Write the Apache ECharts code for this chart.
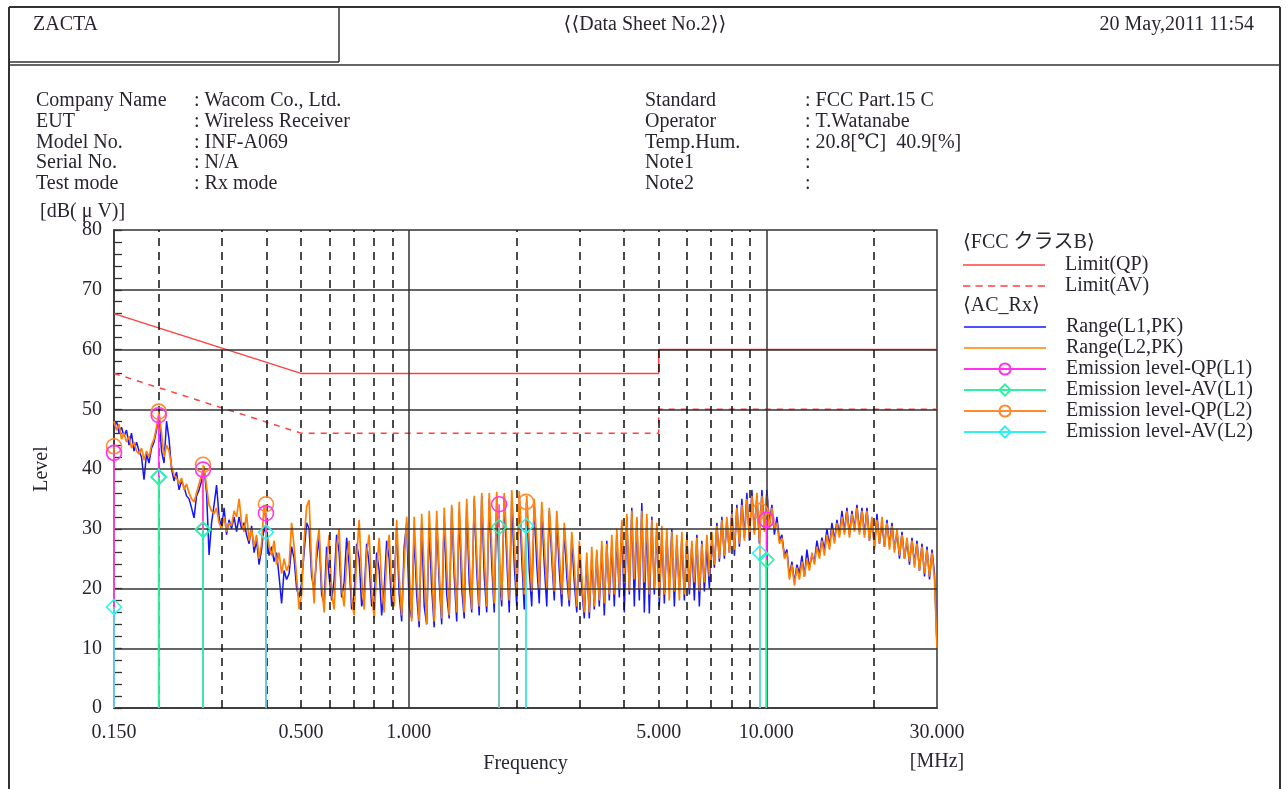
<!DOCTYPE html>
<html><head><meta charset="utf-8">
<script src="https://cdn.jsdelivr.net/npm/echarts/dist/echarts.min.js"></script>
<style>html,body{margin:0;padding:0;background:#fff}#c{width:1287px;height:789px}</style>
</head><body><div id="c"></div>
<script>
// Analyzer log sweep: 0.15 MHz .. 30 MHz, 330 points
const sweepStartMHz = 0.15, sweepStopMHz = 30, sweepPoints = 330;

// Range(L1,PK) - blue
const rangeL1 = [
47,48,46,47,45.5,46.5,44,46,43,44.5,
43,42,38.2,42.5,41,43.5,44.5,46.5,49,43,
41,48,45,40,38,39.5,36.5,38,37,35.5,
35,33.5,31.8,35.5,36.5,38,40,36,25.6,31,
34,37.3,32,30,33.5,29,31.5,30,32,29.5,
32,30,31,29,27.5,30.5,26,28,24,26.5,
30.5,28.5,25.5,27,24.5,26,22,17.5,23,21.5,
22.5,27,25,20,18.5,21,26,31,30,22,
20,25,28.5,19,17.5,27,22,18,21.5,29,
26,18.5,21,28.5,24,16.5,19,27.5,25,17,
19,27.5,24,17,18,26,23,15.5,20,28,
25,17,21,30,19,14.5,27,31,17,15,
29,19,13.5,31,17,14,30,20,13.5,31.5,
21,14,32,19,15,33.5,22,14.5,33,20,
15,34,21,16,35,23,15.5,35.5,22,16,
35,24,16,35,22,17,35.5,25,16,35,
24,17,35.5,25,16.5,34.5,23,17,34,24,
17.5,33.5,24,17,33,25,18,32,23,17,
30,22,17,28.5,21,16,27,20,15,25,
15,25.5,16.5,26,17,27,15.5,28,18,27.5,
17,29,18.5,31,16,32,19,33.5,17,31.5,
18,34.3,16,31.5,15.8,32,19,30.5,17,29.5,
17.5,29,20,30,17,28,19.5,28.5,18,29,
19,27.5,18,29,17,28,19.5,27,20,28.5,
23.5,31,24.5,32,25,31.5,26,33,25.5,34,
27,35,28.5,36,28,36.5,29.5,35.5,27.5,36.5,
30,36.5,31,34,29,32,28,29,25.5,26.5,
22,24.5,21,24,22.5,25.5,22,26.5,23.5,25.5,
24.5,28,25.5,28.5,26.5,30,27,31,28,31.5,
29,33,29.5,33.5,29,33,30,34,29.5,33.5,
29,33.5,28,31.5,27,32.5,27.5,31,27,31.5,
27,31,26.5,29.5,25,29.5,25,28,24,28.5,
24,28,23,27.5,22,27,21.5,26.5,22.5,10
];

// Range(L2,PK) - orange
const rangeL2 = [
48,46.5,47.5,45,46,44.5,45.5,43.5,44.5,43,
42.5,43.5,41.5,43,42,44,45,47,49.5,46,
42,44,43,40.5,39,38.5,37.5,38.5,36.5,37.5,
36,35,34.5,36,37.5,39,40.5,37,34,33,
32.5,33.5,31,30,32,29.5,31,30.5,33,32,
35,31,29.5,32.5,28,30,27,29,25,27.5,
34,30,27,25.5,28,24,26,22.5,25,23,
24,31,27,22,16.5,19,28,33.7,34.8,24,
17.5,27,30,21,16,24,29,19,16.5,27,
30,20,17,24.5,28,18,15.5,25,31.5,22,
16.5,26,29,19.5,15,23,28.5,21,16,25,
29,20,17,31.5,22,15.5,24,32,23,14.5,
32,22,14.5,32.5,23,14,33,24,14.5,33,
23,15,33.5,24,15.5,34,25,16,34.5,24,
16,35,25,16.5,35.5,26,17,36,26,17,
36,27,17.5,36.2,27,18,36,28,18,36.5,
28,19,36.3,28,19,35.5,28,19.5,35,28,
20,34.5,27.5,20,33.5,27,19.5,33,26,19,
31,25,18,29.5,24,17,28,22,16,26,
16,27,17,26.5,18,28,17.5,27.5,19,29,
19,30,20,31.5,21,32.5,19.5,33,21.5,32,
20,33,21,32.5,19,31.5,20,31,18.5,30.5,
19,30,18,29.5,19.5,29,18,29.5,19,28.5,
20,28,21,28.5,19.5,27.5,21,29,22,29.5,
24,30.5,25,31.5,25.5,32,26,32.5,26.5,33.5,
27.5,34,28,35,28.5,35.5,29,36,28,35.5,
29.5,35.5,30,33.5,30,31,27.5,28.5,25,26,
21.5,24,20.5,23.5,21.5,24.5,22,25,23,26,
24,27,25,28,25.5,29,26.5,30,27.5,31,
28.5,32,29,33,28.5,32.5,29.5,33.5,29,33,
28.5,33,28,32,26.5,31.5,27.5,32,27,31,
26.5,30.5,26,30,25.5,29,25,28.5,24.5,28,
23.5,27.5,23,27,22.5,26.5,22,26,21.5,10
];

// FCC class B limits [MHz, dBuV]
const limitQP = [[0.15,66],[0.5,56],[5,56],[5,60],[30,60]];
const limitAV = [[0.15,56],[0.5,46],[5,46],[5,50],[30,50]];

// Emission levels [MHz, dBuV]
const qpL1 = [[0.15,42.7],[0.2,49.0],[0.266,39.9],[0.399,32.6],[1.79,34.1],[10.0,31.5]];
const avL1 = [[0.2,38.7],[0.266,29.8],[1.79,30.3],[10.0,24.8]];
const qpL2 = [[0.15,43.8],[0.2,49.6],[0.266,40.7],[0.399,34.1],[2.13,34.5],[9.6,33.0]];
const avL2 = [[0.15,16.9],[0.2,38.6],[0.266,29.9],[0.399,29.4],[2.13,30.5],[9.6,25.9]];

// Axis ticks / grid
const xTickMHz = [0.15,0.5,1,5,10,30];
const xTickText = ['0.150','0.500','1.000','5.000','10.000','30.000'];
const gridDashedMHz = [0.2,0.3,0.4,0.5,0.6,0.7,0.8,0.9,2,3,4,5,6,7,8,9,20];
const gridSolidMHz = [1,10];
const gridLevels = [10,20,30,40,50,60,70];

const FONT = '"Liberation Serif","DejaVu Serif","Noto Sans CJK JP",serif';
const F20 = '20px ' + FONT;
const TXT = '#2a2430';

const sweepMHz = [];
for (let i = 0; i < sweepPoints; i++) sweepMHz.push(sweepStartMHz * Math.pow(sweepStopMHz / sweepStartMHz, i / (sweepPoints - 1)));
const pairs = vals => vals.map((v, i) => [sweepMHz[i], v]);
const stems = pts => {
  const out = [];
  pts.forEach(p => { out.push({value:[p[0],0], symbol:'none'}); out.push({value:[p[0],p[1]]}); out.push({value:[p[0],'-'], symbol:'none'}); });
  return out;
};

const C = {qp:'#ff4040', l1:'#1414ff', l2:'#ff8000', qpL1:'#ff33ee', avL1:'#30f0a0', qpL2:'#ff8a30', avL2:'#30f0f0'};

const txt = (id, text, x, y, align) => ({type:'text', id, silent:true, style:{text, x, y, font:F20, fill:TXT, align:align||'left', verticalAlign:'middle'}});
const ln = (id, x1, y1, x2, y2, w) => ({type:'line', id, silent:true, shape:{x1,y1,x2,y2}, style:{stroke:'#333', lineWidth:w||1.5}});

const baseGraphics = [
  ln('f0', 9, 7, 1280, 7, 2),
  ln('f1', 9, 7, 9, 789, 2),
  ln('f2', 1280, 7, 1280, 789, 2),
  ln('f3', 339, 7, 339, 62, 1.5),
  ln('f4', 9, 62, 339, 62, 1.5),
  ln('f5', 9, 65, 1280, 65, 1.5),
  txt('h1', 'ZACTA', 33, 25),
  txt('h2', '⟨⟨Data Sheet No.2⟩⟩', 645, 25, 'center'),
  txt('h3', '20 May,2011 11:54', 1254, 25, 'right'),
  txt('a1', 'Company Name', 36, 101), txt('a2', ': Wacom Co., Ltd.', 194, 101),
  txt('b1', 'EUT', 36, 122), txt('b2', ': Wireless Receiver', 194, 122),
  txt('c1', 'Model No.', 36, 143), txt('c2', ': INF-A069', 194, 143),
  txt('d1', 'Serial No.', 36, 163), txt('d2', ': N/A', 194, 163),
  txt('e1', 'Test mode', 36, 184), txt('e2', ': Rx mode', 194, 184),
  txt('a3', 'Standard', 645, 101), txt('a4', ': FCC Part.15 C', 805, 101),
  txt('b3', 'Operator', 645, 122), txt('b4', ': T.Watanabe', 805, 122),
  txt('c3', 'Temp.Hum.', 645, 143), txt('c4', ': 20.8[℃]  40.9[%]', 805, 143),
  txt('d3', 'Note1', 645, 163), txt('d4', ':', 805, 163),
  txt('e3', 'Note2', 645, 184), txt('e4', ':', 805, 184),
  txt('u1', '[dB( μ V)]', 40, 212),
  txt('u2', '[MHz]', 937, 762, 'center'),
  txt('g1', '⟨FCC クラスB⟩', 963, 243),
  txt('g2', '⟨AC_Rx⟩', 963, 306)
];

const gridMarks = [];
gridLevels.forEach(v => gridMarks.push({yAxis:v, lineStyle:{type:'solid', color:'#333', width:1.5}}));
gridDashedMHz.forEach(f => gridMarks.push({xAxis:f, lineStyle:{type:[8,6], color:'#111', width:1.5}}));
gridSolidMHz.forEach(f => gridMarks.push({xAxis:f, lineStyle:{type:'solid', color:'#333', width:1.5}}));

const emission = (name, data, color, symbol, z) => ({
  name, type:'line', data: stems(data), z, symbol, symbolSize: 15, showSymbol:true, connectNulls:false,
  lineStyle:{color, width:1.5}, itemStyle:{color:'rgba(255,255,255,0)', borderColor:color, borderWidth:1.6},
  emphasis:{disabled:true}, silent:true
});

const ICON_SOLID = 'path://M0,0H82V1.6H0Z';
const ICON_DASH = 'path://M0,0H7V1.6H0ZM12,0H19V1.6H12ZM24,0H31V1.6H24ZM36,0H43V1.6H36ZM48,0H55V1.6H48ZM60,0H67V1.6H60ZM72,0H79V1.6H72Z';
const legendText = {fontFamily:FONT, fontSize:20, color:TXT, lineHeight:20, padding:[0,0,0,15]};

const option = {
  animation:false,
  backgroundColor:'#fff',
  grid:{left:114, top:230, width:823, height:478, show:true, borderColor:'#333', borderWidth:1.5, backgroundColor:'transparent'},
  xAxis:{type:'log', logBase:10, min:0.15, max:30,
    axisLabel:{show:false}, axisTick:{show:false}, splitLine:{show:false}, minorTick:{show:false},
    axisLine:{show:true, lineStyle:{color:'#333', width:1.5}},
    name:'Frequency', nameLocation:'middle', nameGap:46, nameTextStyle:{fontFamily:FONT, fontSize:20, color:TXT}},
  yAxis:{type:'value', min:0, max:80, interval:10,
    axisLabel:{fontFamily:FONT, fontSize:20, color:TXT, margin:12},
    axisTick:{show:true, inside:true, length:8, lineStyle:{color:'#333', width:1.3}},
    minorTick:{show:true, splitNumber:5, length:8, lineStyle:{color:'#333', width:1.3}},
    splitLine:{show:false},
    axisLine:{show:true, lineStyle:{color:'#333', width:1.5}},
    name:'Level', nameLocation:'middle', nameGap:62, nameRotate:90, nameTextStyle:{fontFamily:FONT, fontSize:20, color:TXT}},
  legend:[
    {data:[{name:'Limit(QP)', icon:ICON_SOLID},{name:'Limit(AV)', icon:ICON_DASH}], orient:'vertical', left:963, top:255, padding:0,
     itemWidth:82, itemHeight:14, itemGap:1, selectedMode:false, textStyle:legendText},
    {data:[{name:'Range(L1,PK)', icon:ICON_SOLID},{name:'Range(L2,PK)', icon:ICON_SOLID},'Emission level-QP(L1)','Emission level-AV(L1)','Emission level-QP(L2)','Emission level-AV(L2)'],
     orient:'vertical', left:963, top:317, padding:0,
     itemWidth:82, itemHeight:14, itemGap:1, selectedMode:false, textStyle:legendText}
  ],
  graphic: baseGraphics,
  series:[
    {name:'Range(L1,PK)', type:'line', data:pairs(rangeL1), symbol:'none', z:2, silent:true,
     lineStyle:{color:C.l1, width:1.5}, itemStyle:{color:C.l1}},
    {name:'Range(L2,PK)', type:'line', data:pairs(rangeL2), symbol:'none', z:3, silent:true,
     lineStyle:{color:C.l2, width:1.7}, itemStyle:{color:C.l2}},
    {name:'Limit(QP)', type:'line', data:limitQP, symbol:'none', z:4, silent:true,
     lineStyle:{color:C.qp, width:1.5}, itemStyle:{color:C.qp},
     markLine:{silent:true, symbol:['none','none'], label:{show:false}, data:gridMarks, animation:false}},
    {name:'Limit(AV)', type:'line', data:limitAV, symbol:'none', z:4, silent:true,
     lineStyle:{color:C.qp, width:1.5, type:[6,6]}, itemStyle:{color:C.qp}},
    emission('Emission level-QP(L2)', qpL2, C.qpL2, 'circle', 6),
    emission('Emission level-QP(L1)', qpL1, C.qpL1, 'circle', 7),
    emission('Emission level-AV(L2)', avL2, C.avL2, 'diamond', 8),
    emission('Emission level-AV(L1)', avL1, C.avL1, 'diamond', 9)
  ]
};

const chart = echarts.init(document.getElementById('c'));
chart.setOption(option);
const xLabels = xTickMHz.map((f, i) => txt('xl' + i, xTickText[i], chart.convertToPixel({xAxisIndex:0}, f), 733, 'center'));
chart.setOption({graphic: baseGraphics.concat(xLabels)});
</script>
</body></html>
